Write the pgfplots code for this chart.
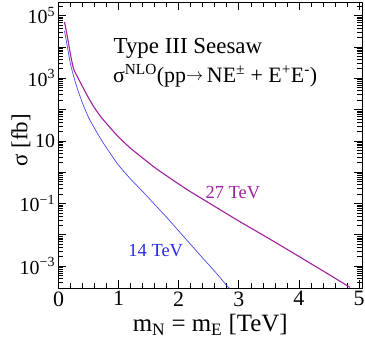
\documentclass[border=0pt]{standalone}
\usepackage{fontspec}
\setmainfont{Liberation Serif}
\usepackage{pgfplots}
\pgfplotsset{compat=1.18}
\definecolor{purp}{RGB}{160,32,160}
\definecolor{blu}{RGB}{40,40,235}

\pgfplotstableread{
x     y
0.10  6.2e4
0.15  2.0e4
0.20  5.6e3
0.25  2.0e3
0.30  1260
0.40  537
0.50  234
0.60  112
0.70  60
0.80  35.5
0.90  21.4
1.00  13.2
1.20  5.75
1.40  2.82
1.60  1.41
1.80  0.76
2.00  0.417
2.20  0.234
2.50  0.105
3.00  0.0275
3.50  7.6e-3
4.00  2.04e-3
4.50  5.4e-4
4.80  2.4e-4
4.85  2.1e-4
}\tevtwentyseven

\pgfplotstableread{
x     y
0.10  3.2e4
0.15  9.5e3
0.20  2.8e3
0.25  1200
0.30  562
0.40  158
0.50  56
0.60  25
0.70  11.7
0.80  5.9
0.90  3.1
1.00  1.66
1.20  0.60
1.40  0.24
1.60  0.093
1.80  0.036
2.00  0.0132
2.20  4.9e-3
2.40  1.8e-3
2.60  6.8e-4
2.80  2.4e-4
2.85  1.9e-4
}\tevfourteen

\begin{document}
\begin{tikzpicture}
\begin{axis}[
    at={(0,0)}, anchor=south west,
    scale only axis, width=303.5bp, height=285.5bp,
    xmin=0, xmax=5.05,
    ymode=log, ymin=2e-4, ymax=2.6e5,
    xtick={0,1,2,3,4,5}, minor x tick num=4,
    ytick={1e-3,1e-2,1e-1,1,10,1e2,1e3,1e4,1e5},
    yticklabels={10\textsuperscript{−3},,10\textsuperscript{−1},,10,,10\textsuperscript{3},,10\textsuperscript{5}},
    minor ytick={3e-4,4e-4,5e-4,6e-4,7e-4,8e-4,9e-4,
                 2e-3,3e-3,4e-3,5e-3,6e-3,7e-3,8e-3,9e-3,
                 2e-2,3e-2,4e-2,5e-2,6e-2,7e-2,8e-2,9e-2,
                 2e-1,3e-1,4e-1,5e-1,6e-1,7e-1,8e-1,9e-1,
                 2,3,4,5,6,7,8,9,
                 20,30,40,50,60,70,80,90,
                 200,300,400,500,600,700,800,900,
                 2e3,3e3,4e3,5e3,6e3,7e3,8e3,9e3,
                 2e4,3e4,4e4,5e4,6e4,7e4,8e4,9e4,2e5},
    /pgf/number format/assume math mode=true,
    yticklabel style={font=\fontsize{20}{20}\selectfont},
    xticklabel style={font=\fontsize{22}{22}\selectfont},
    major tick length=8bp, minor tick length=5bp,
    axis line style={line width=1bp},
    tick style={black, line width=0.6bp},
    xlabel={m\textsubscript{N} = m\textsubscript{E} [TeV]},
    ylabel={σ [fb]},
    xlabel style={font=\fontsize{25}{25}\selectfont, at={(axis description cs:0.5,-0.13)}, anchor=center},
    ylabel style={font=\fontsize{23}{23}\selectfont, at={(axis description cs:-0.124,0.518)}, anchor=center},
    clip=true,
]
\addplot[purp, line width=1.1bp, smooth, tension=0.4] table[x=x, y=y] {\tevtwentyseven};
\addplot[blu, line width=0.7bp, opacity=0.85, smooth, tension=0.5] table[x=x, y=y] {\tevfourteen};

\node[anchor=base west, font=\fontsize{23}{23}\selectfont] at (rel axis cs:0.170,0.823) {Type III Seesaw};
\node[anchor=base west, font=\fontsize{22}{22}\selectfont] at (rel axis cs:0.168,0.720)
    {σ\textsuperscript{NLO}(pp\raisebox{1.5bp}{\fontsize{16}{16}\selectfont$\rightarrow$}\,NE\textsuperscript{±} + E\textsuperscript{+}E\textsuperscript{-})};
\node[anchor=base west, purp, font=\fontsize{18.5}{18.5}\selectfont] at (rel axis cs:0.473,0.312) {27 TeV};
\node[anchor=base west, blu, font=\fontsize{18.5}{18.5}\selectfont] at (rel axis cs:0.219,0.112) {14 TeV};
\end{axis}
\pgfresetboundingbox
\path[use as bounding box] (-58.5bp,-66bp) rectangle (306.5bp,288bp);
\end{tikzpicture}
\end{document}
